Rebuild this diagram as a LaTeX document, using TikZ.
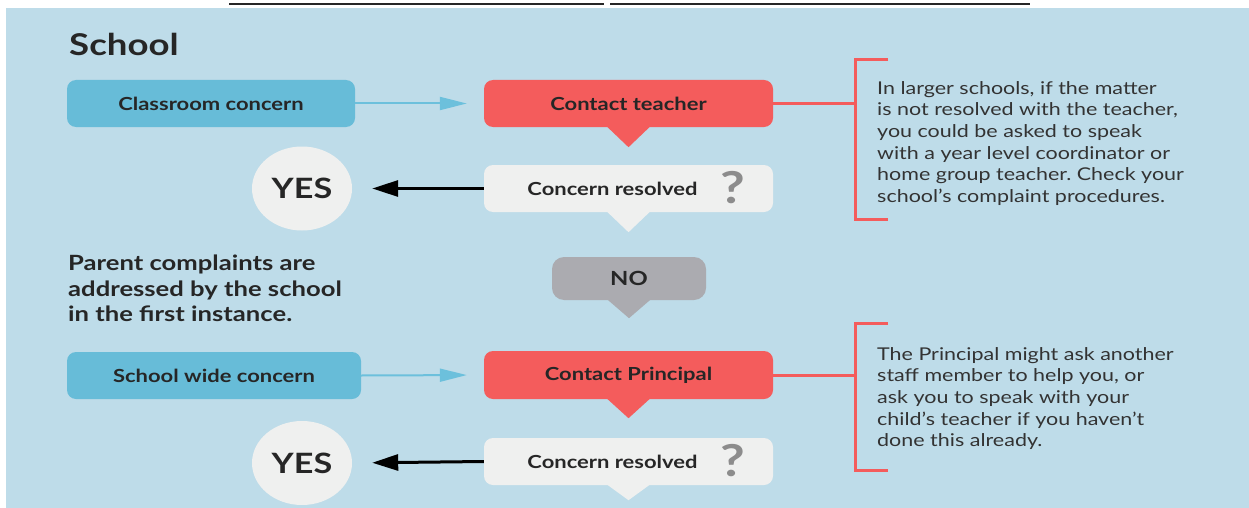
\documentclass[tikz,border=0pt]{standalone}
\usepackage{fontspec}
\setmainfont{Lato}[FakeStretch=1.22]
\usetikzlibrary{arrows.meta,shapes.geometric}
\frenchspacing
\definecolor{bgblue}{HTML}{BEDCE9}
\definecolor{boxblue}{HTML}{67BCD8}
\definecolor{boxred}{HTML}{F45C5C}
\definecolor{boxlight}{HTML}{EFF0EF}
\definecolor{boxgray}{HTML}{ABABB0}
\definecolor{txtdark}{HTML}{262626}
\definecolor{txtmid}{HTML}{333333}
\definecolor{qgray}{HTML}{8C8C8C}
\definecolor{arrowblue}{HTML}{6CC0DC}
\begin{document}
\begin{tikzpicture}[x=1pt,y=-1pt,
  base/.style={rounded corners=9pt, inner sep=0pt, text=txtdark, font=\fontsize{18}{21}\selectfont\bfseries, minimum height=47pt},
  bluebox/.style={base, fill=boxblue},
  redbox/.style={base, fill=boxred, minimum width=289pt},
  lightbox/.style={base, fill=boxlight, minimum width=289pt},
  graybox/.style={base, fill=boxgray, minimum width=154pt, minimum height=43pt, rounded corners=12pt, font=\fontsize{19.5}{22}\selectfont\bfseries},
  yescirc/.style={ellipse, fill=boxlight, minimum width=100pt, minimum height=84pt, inner sep=0pt, text=txtdark, font=\fontsize{28}{30}\selectfont\bfseries},
  bluearrow/.style={draw=arrowblue, line width=2pt, -{Triangle[length=27pt,width=13pt]}, shorten >=17pt},
  blackarrow/.style={draw=black, line width=3pt, -{Triangle[length=26pt,width=16pt]}, shorten >=20pt},
  redline/.style={draw=boxred, line width=3pt},
  desc/.style={anchor=north west, inner sep=0pt, align=left, text=txtmid, font=\fontsize{17.6}{21.7}\selectfont},
  qmark/.style={text=qgray, font=\fontsize{44}{44}\selectfont\bfseries, inner sep=0pt}
]
\useasboundingbox (0,0) rectangle (1249,508);
% background and top strip
\fill[bgblue] (6,8) rectangle (1249,508);
\draw[line width=2pt, black!85] (229,4.5) -- (604,4.5);
\draw[line width=2pt, black!85] (610,4.5) -- (1030,4.5);

% title
\node[anchor=base west, inner sep=0pt, text=txtdark, font=\fontsize{30}{32}\selectfont\bfseries] (title) at (69,56) {School};

% row 1
\node[bluebox, minimum width=288pt] (cc) at (211,103.5) {Classroom concern};
\node[redbox] (ct) at (628.5,103.5) {Contact teacher};
\fill[boxred] ([xshift=-22pt,yshift=1pt]ct.south) -- ([xshift=22pt,yshift=1pt]ct.south) -- ([yshift=-20pt]ct.south) -- cycle;
\draw[bluearrow] (cc.east) -- (ct.west);

\node[lightbox] (cr1) at (628.5,188.5) {\hspace*{-32pt}Concern resolved};
\node[qmark] (q1) at (733,188) {?};
\fill[boxlight] ([xshift=-22pt,yshift=1pt]cr1.south) -- ([xshift=22pt,yshift=1pt]cr1.south) -- ([yshift=-20pt]cr1.south) -- cycle;
\node[yescirc] (yes1) at (302,188.5) {YES};
\draw[blackarrow] (cr1.west) -- (yes1.east);

% bracket 1
\coordinate (b1) at (855,103.5);
\draw[redline] (ct.east) -- (b1);
\draw[redline] (888,60) -- (855,60) -- (855,219) -- (888,219);
\node[desc] (d1) at (877,81) {In larger schools, if the matter\\is not resolved with the teacher,\\you could be asked to speak\\with a year level coordinator or\\home group teacher. Check your\\school's complaint procedures.};

% NO
\node[graybox] (no) at (629,278.5) {NO};
\fill[boxgray] ([xshift=-22pt,yshift=1pt]no.south) -- ([xshift=22pt,yshift=1pt]no.south) -- ([yshift=-18pt]no.south) -- cycle;

% parent text
\node[anchor=north west, inner sep=0pt, align=left, text=txtdark, font=\fontsize{21}{25.5}\selectfont\bfseries] (parent) at (68,255) {Parent complaints are\\addressed by the school\\in the first instance.};

% row 2
\node[bluebox, minimum width=294pt] (sw) at (214,375.5) {School wide concern};
\node[redbox, minimum height=48pt] (cp) at (628.5,375) {Contact Principal};
\fill[boxred] ([xshift=-22pt,yshift=1pt]cp.south) -- ([xshift=22pt,yshift=1pt]cp.south) -- ([yshift=-19pt]cp.south) -- cycle;
\draw[bluearrow] (sw.east) -- (cp.west);

\node[lightbox] (cr2) at (628.5,461.5) {\hspace*{-32pt}Concern resolved};
\node[qmark] (q2) at (733,461) {?};
\fill[boxlight] ([xshift=-22pt,yshift=1pt]cr2.south) -- ([xshift=22pt,yshift=1pt]cr2.south) -- ([yshift=-15pt]cr2.south) -- cycle;
\node[yescirc] (yes2) at (302,463) {YES};
\draw[blackarrow] (cr2.west) -- (yes2.east);

% bracket 2
\coordinate (b2) at (855,375);
\draw[redline] (cp.east) -- (b2);
\draw[redline] (888,323) -- (855,323) -- (855,470) -- (888,470);
\node[desc] (d2) at (877,347) {The Principal might ask another\\staff member to help you, or\\ask you to speak with your\\child's teacher if you haven't\\done this already.};
\end{tikzpicture}
\end{document}
